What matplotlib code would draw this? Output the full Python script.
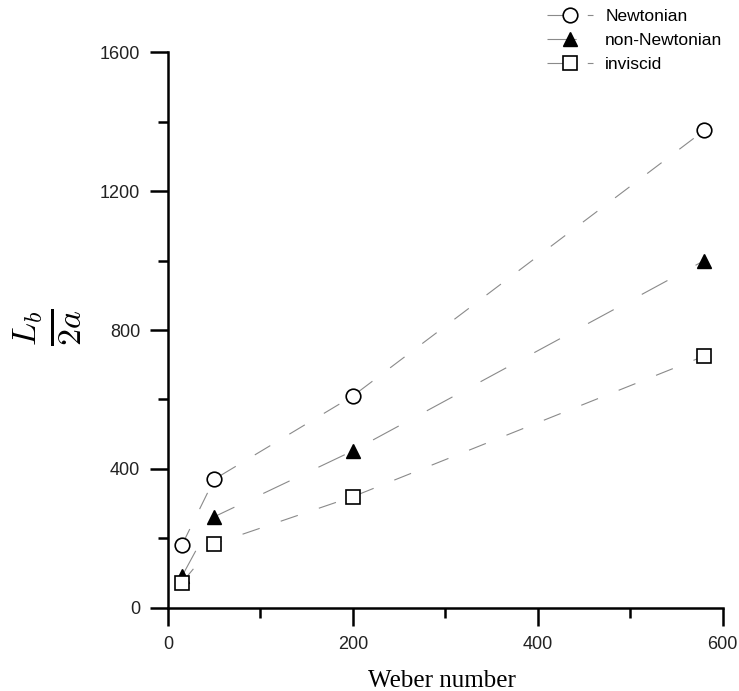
import matplotlib
matplotlib.use('Agg')
import matplotlib.pyplot as plt

# breakup length vs Weber number
weber = [15, 50, 200, 580]
newtonian = [180, 370, 610, 1375]
non_newtonian = [90, 262, 452, 1000]
inviscid = [72, 184, 320, 725]

plt.rcParams['mathtext.fontset'] = 'cm'
plt.rcParams['lines.scale_dashes'] = False

fig = plt.figure(figsize=(7.39, 6.91), dpi=100)
ax = fig.add_axes([0.2273, 0.1205, 0.7507, 0.8038])

ax.plot(weber, newtonian, color='#8a8a8a', lw=0.8, dashes=(13, 16),
        marker='o', ms=10.5, mfc='white', mec='black', mew=1.2, label='Newtonian')
ax.plot(weber, non_newtonian, color='#8a8a8a', lw=0.8, dashes=(21, 23),
        marker='^', ms=10, mfc='black', mec='black', mew=1.0, label='non-Newtonian')
ax.plot(weber, inviscid, color='#8a8a8a', lw=0.8, dashes=(13, 16),
        marker='s', ms=10.5, mfc='white', mec='black', mew=1.2, label='inviscid')

ax.set_xlim(0, 600)
ax.set_ylim(0, 1600)
ax.set_xticks([0, 200, 400, 600])
ax.set_xticks([100, 300, 500], minor=True)
ax.set_yticks([0, 400, 800, 1200, 1600])
ax.set_yticks([200, 600, 1000, 1400], minor=True)

for s in ['top', 'right']:
    ax.spines[s].set_visible(False)
for s in ['left', 'bottom']:
    ax.spines[s].set_linewidth(1.8)

ax.tick_params(which='major', direction='out', length=13, width=1.8, pad=7,
               labelsize=13, labelcolor='#222222')
ax.tick_params(which='minor', direction='out', length=7, width=1.8)
for lab in ax.get_xticklabels() + ax.get_yticklabels():
    lab.set_family('Liberation Sans')

ax.set_xlabel('Weber number', family='Liberation Serif', fontsize=18)
ax.xaxis.set_label_coords(0.494, -0.113)
ax.set_ylabel(r'$\frac{L_b}{2a}$', fontsize=35, rotation=90, va='center')
ax.yaxis.set_label_coords(-0.218, 0.505)

fig.legend(loc='upper left', bbox_to_anchor=(547 / 739, 1 - 9 / 691),
           frameon=False, numpoints=1, handlelength=2.65, handletextpad=0.7,
           labelspacing=0.5, borderpad=0, borderaxespad=0,
           prop={'family': 'Liberation Sans', 'size': 12.5})

fig.savefig('out.png', dpi=100)
